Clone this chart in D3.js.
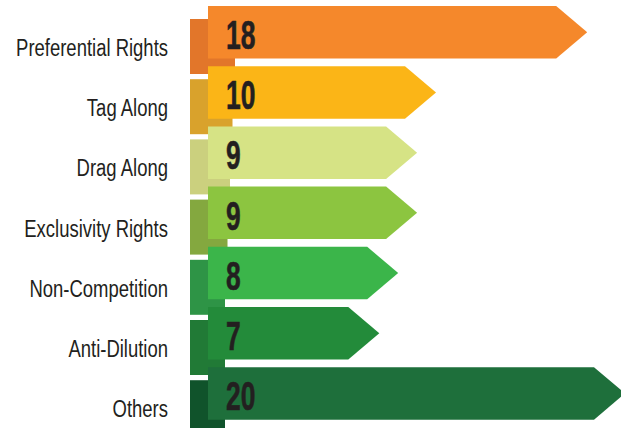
<!DOCTYPE html>
<html>
<head>
<meta charset="utf-8">
<script src="https://cdn.jsdelivr.net/npm/d3@7"></script>
<style>
  html, body { margin: 0; padding: 0; background: #ffffff; }
  svg { display: block; }
</style>
</head>
<body>
<svg id="chart" width="621" height="428"></svg>
<script>
// Clause counts by category
const categories = ["Preferential Rights", "Tag Along", "Drag Along", "Exclusivity Rights", "Non-Competition", "Anti-Dilution", "Others"];
const counts = [18, 10, 9, 9, 8, 7, 20];
const barColors = ["#f5882b", "#fbb517", "#d6e385", "#8cc540", "#3bb54a", "#238b3a", "#1e6f3b"];
const tabColors = ["#e2762a", "#d9a22c", "#cbd07e", "#84a83f", "#2e9446", "#217a36", "#10532b"];

const svg = d3.select("#chart");

const barLeft = 208;      // left edge of each arrow body
const tabLeft = 190;      // left edge of the darker tab behind it
const headLen = 31;       // length of the arrow point
const barH = 52.5;
const font = "'Liberation Sans Narrow', 'Liberation Sans', Arial, sans-serif";

const y = d3.scaleBand()
  .domain(categories)
  .range([6, 6 + 60.2 * categories.length])
  .paddingInner(0)
  .paddingOuter(0);

// body end position for a count
const x = d3.scaleLinear().domain([0, 20]).range([216, 594]);

const rows = svg.selectAll("g.row")
  .data(categories.map((c, i) => ({ cat: c, v: counts[i], i })))
  .join("g")
  .attr("class", "row");

// darker tab peeking out below-left of each arrow
rows.append("rect")
  .attr("x", tabLeft)
  .attr("y", d => y(d.cat) + 13)
  .attr("width", d => Math.max(35, 45 - 2.5 * d.i))
  .attr("height", 55)
  .attr("fill", d => tabColors[d.i]);

// arrow body with pointed end
rows.append("path")
  .attr("fill", d => barColors[d.i])
  .attr("d", d => {
    const t = y(d.cat), b = t + barH, e = x(d.v);
    return `M${barLeft},${t}L${e},${t}L${e + headLen},${(t + b) / 2}L${e},${b}L${barLeft},${b}Z`;
  });

// value on each arrow
rows.append("text")
  .attr("transform", d => `translate(226,${y(d.cat) + 43}) scale(0.66,1)`)
  .attr("font-family", font)
  .attr("font-weight", "bold")
  .attr("font-size", 40)
  .attr("fill", "#231f20")
  .attr("stroke", "#231f20")
  .attr("stroke-width", 0.6)
  .text(d => d.v);

// category labels
rows.append("text")
  .attr("transform", d => `translate(168,${y(d.cat) + 50}) scale(0.77,1)`)
  .attr("text-anchor", "end")
  .attr("font-family", font)
  .attr("font-size", 24)
  .attr("fill", "#231f20")
  .text(d => d.cat);
</script>
</body>
</html>
